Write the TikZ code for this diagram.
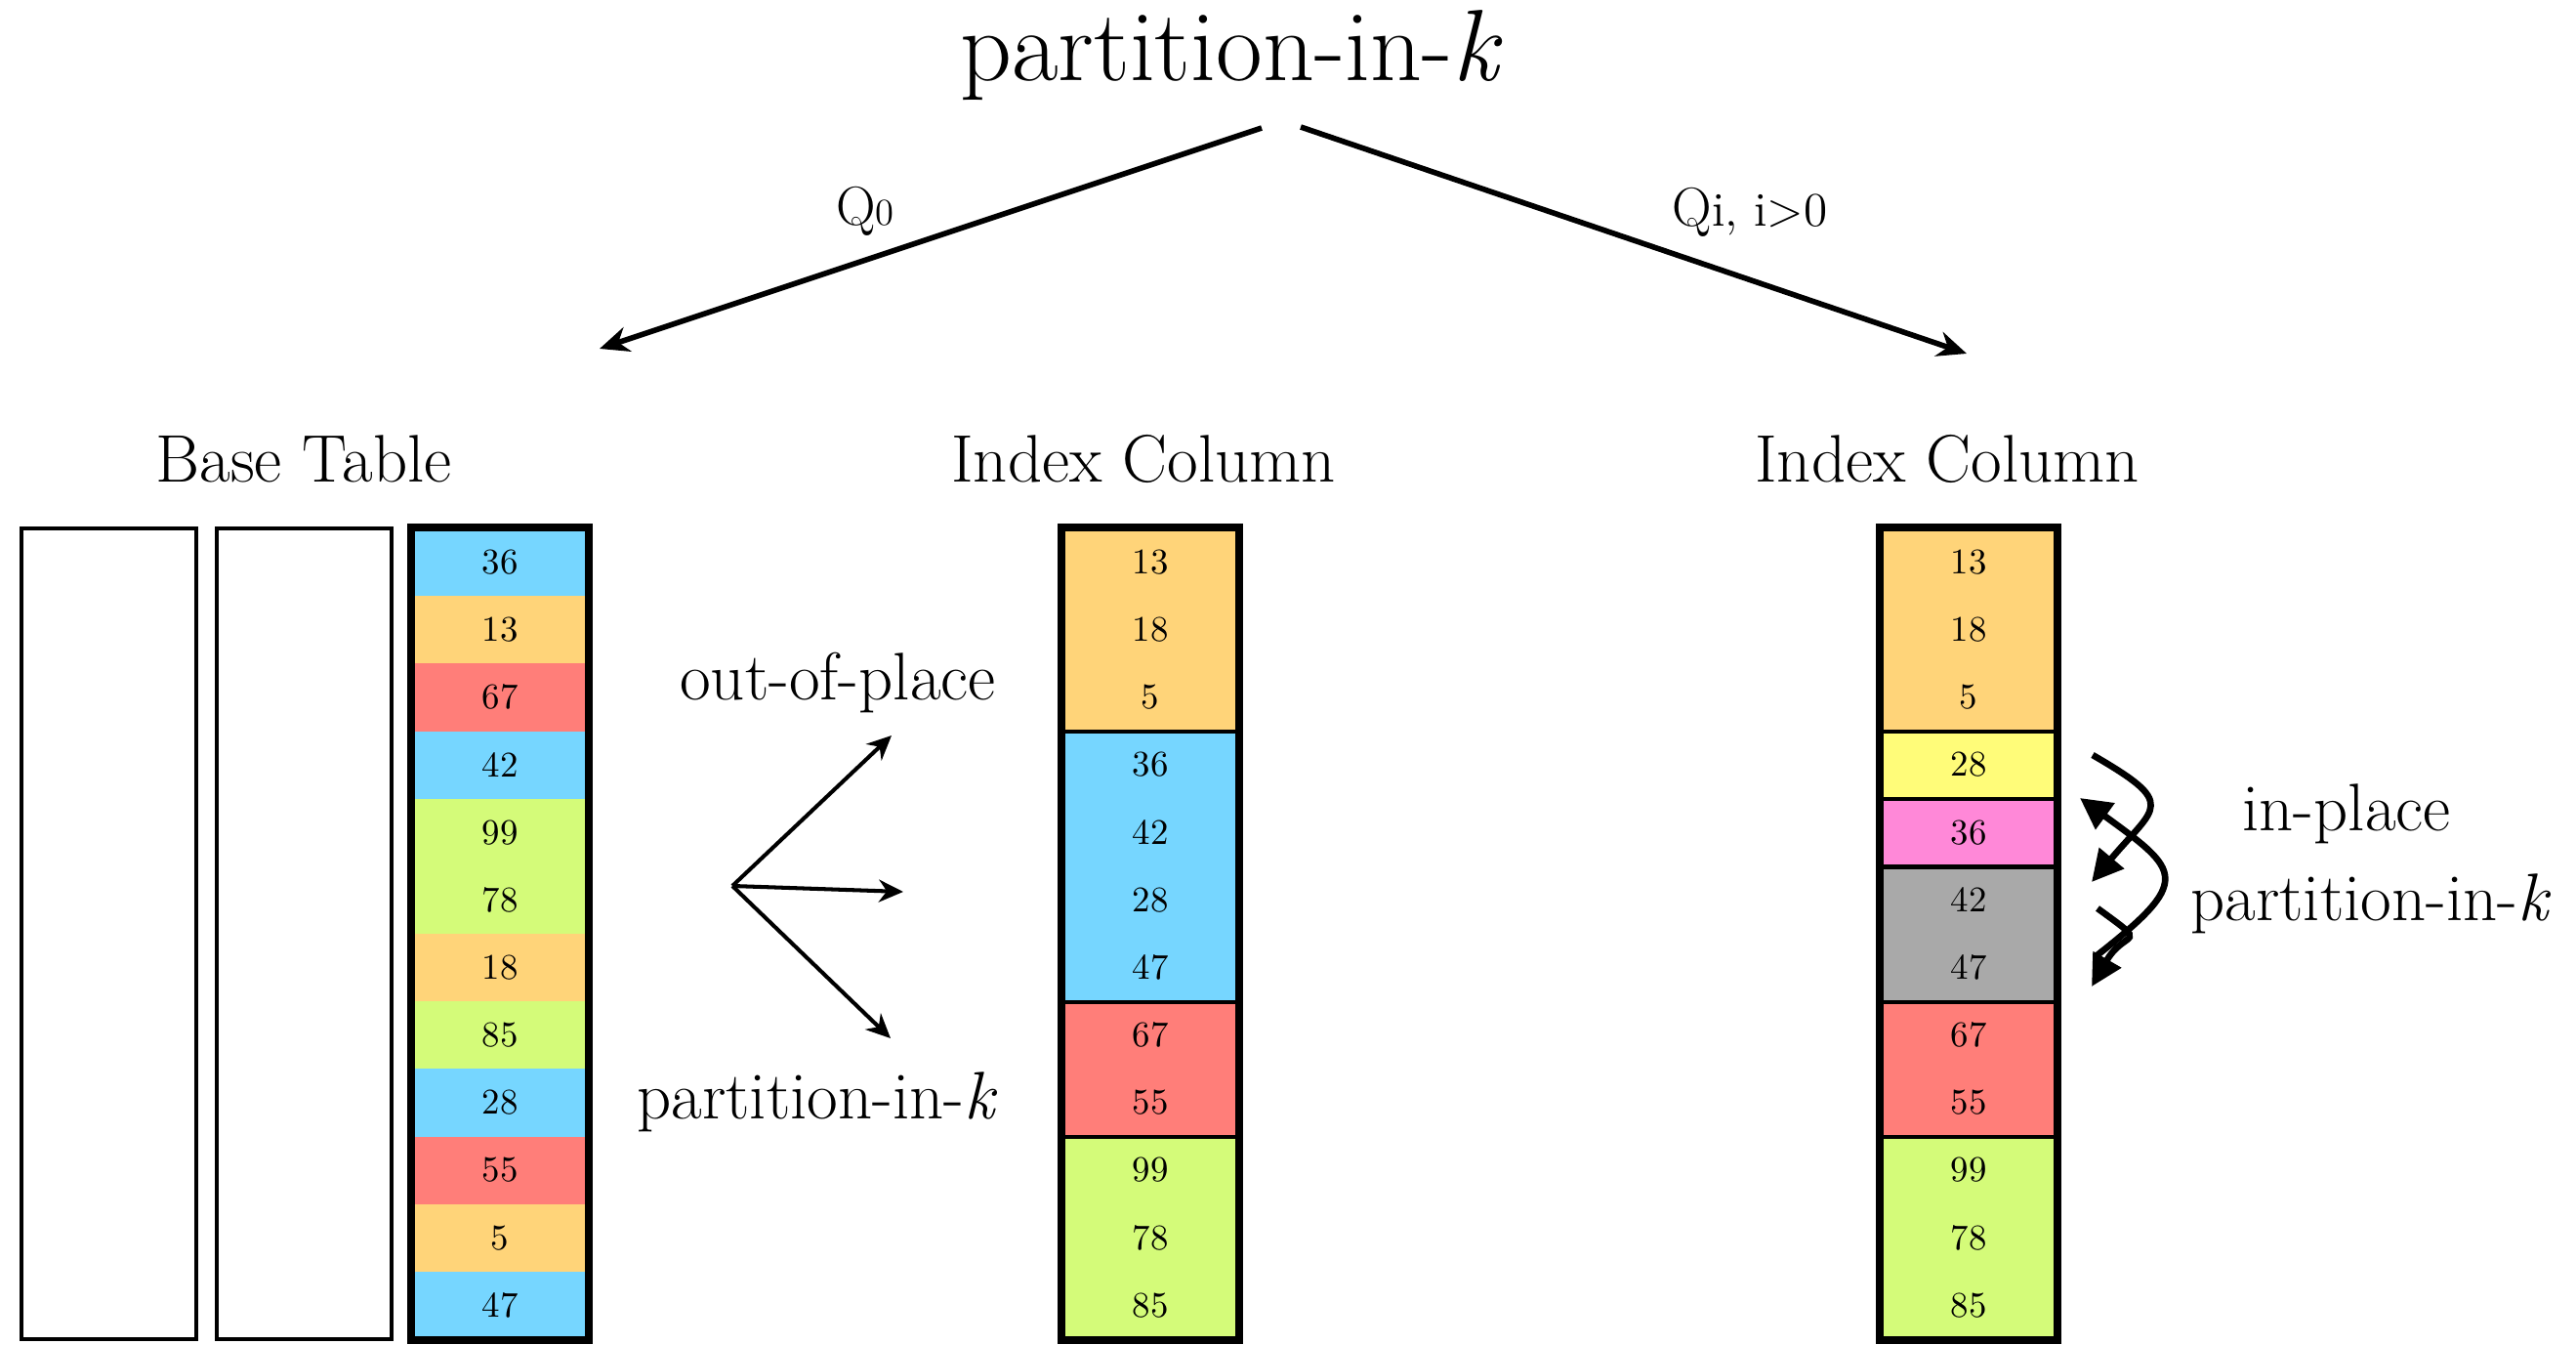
\documentclass[tikz,border=0pt]{standalone}
\usetikzlibrary{arrows.meta}
\definecolor{sky}{HTML}{76D6FF}
\definecolor{cantaloupe}{HTML}{FFD479}
\definecolor{salmon}{HTML}{FF7E79}
\definecolor{honeydew}{HTML}{D4FB79}
\definecolor{banana}{HTML}{FFFC79}
\definecolor{bubblegum}{HTML}{FF88D8}
\definecolor{aluminum}{HTML}{A9A9A9}
\newcommand{\capfont}{\fontsize{19.6}{23}\selectfont}

\begin{document}
\begin{tikzpicture}[
    cell/.style={minimum width=1.8cm, minimum height=0.6917cm, inner sep=0pt,
      font=\fontsize{10.5}{12}\selectfont},
    colborder/.style={draw=black, line width=2.2pt},
    blankcol/.style={draw=black, line width=1.2pt, minimum width=1.79cm,
      minimum height=8.3cm, inner sep=0pt},
    sepline/.style={line width=1.2pt},
    captext/.style={font=\capfont, anchor=base, inner sep=0pt},
    toparrow/.style={-{Stealth[length=0.3cm, width=0.26cm]}, line width=1.6pt},
    fanarrow/.style={-{Stealth[length=0.25cm, width=0.23cm]}, line width=1.15pt},
    swaparrow/.style={-{Triangle[length=0.32cm, width=0.32cm]}, line width=1.9pt}
  ]
  \useasboundingbox (0,0) rectangle (26.38,13.76);

  % title and the two query branches
  \node[font=\fontsize{29.5}{34}\selectfont, anchor=base, inner sep=0pt] (title)
    at (12.61,12.93) {partition-in-\textit{k}};
  \coordinate (forkl) at (12.92,12.45);
  \coordinate (forkr) at (13.32,12.46);
  \coordinate (q0end) at (6.14,10.19);
  \coordinate (qiend) at (20.14,10.14);
  \draw[toparrow] (forkl) -- (q0end);
  \draw[toparrow] (forkr) -- (qiend);
  \node[anchor=base, inner sep=0pt] (qzero) at (8.86,11.45)
    {{\fontsize{16}{19}\selectfont Q}{\fontsize{11}{13}\selectfont 0}};
  \node[anchor=base, inner sep=0pt] (qi) at (17.92,11.44)
    {{\fontsize{16}{19}\selectfont Q}{\fontsize{14}{16}\selectfont i, i>0}};

  % base table
  \node[captext] (basetitle) at (3.11,8.82) {Base Table};
  \node[blankcol] (blanka) at (1.115,4.2) {};
  \node[blankcol] (blankb) at (3.115,4.2) {};
  \foreach \val/\col [count=\i] in {36/sky, 13/cantaloupe, 67/salmon, 42/sky,
      99/honeydew, 78/honeydew, 18/cantaloupe, 85/honeydew, 28/sky, 55/salmon,
      5/cantaloupe, 47/sky}
    \node[cell, fill=\col] (base-\i) at (5.12,{8.35-0.6917*(\i-0.5)}) {\val};
  \draw[colborder] (base-1.north west) rectangle (base-12.south east);

  % out-of-place index column
  \node[captext] (idxatitle) at (11.71,8.82) {Index Column};
  \foreach \val/\col [count=\i] in {13/cantaloupe, 18/cantaloupe, 5/cantaloupe,
      36/sky, 42/sky, 28/sky, 47/sky, 67/salmon, 55/salmon, 99/honeydew,
      78/honeydew, 85/honeydew}
    \node[cell, fill=\col] (idxa-\i) at (11.78,{8.35-0.6917*(\i-0.5)}) {\val};
  \foreach \i in {3,7,9}
    \draw[sepline] (idxa-\i.south west) -- (idxa-\i.south east);
  \draw[colborder] (idxa-1.north west) rectangle (idxa-12.south east);

  % in-place index column
  \node[captext] (idxbtitle) at (19.94,8.82) {Index Column};
  \foreach \val/\col [count=\i] in {13/cantaloupe, 18/cantaloupe, 5/cantaloupe,
      28/banana, 36/bubblegum, 42/aluminum, 47/aluminum, 67/salmon, 55/salmon,
      99/honeydew, 78/honeydew, 85/honeydew}
    \node[cell, fill=\col] (idxb-\i) at (20.16,{8.35-0.6917*(\i-0.5)}) {\val};
  \foreach \i in {3,4,5,7,9}
    \draw[sepline] (idxb-\i.south west) -- (idxb-\i.south east);
  \draw[colborder] (idxb-1.north west) rectangle (idxb-12.south east);

  % fan of choices
  \coordinate (fanorigin) at (7.5,4.69);
  \coordinate (fanup) at (9.13,6.23);
  \coordinate (fanmid) at (9.25,4.63);
  \coordinate (fandown) at (9.12,3.13);
  \foreach \tip in {fanup, fanmid, fandown}
    \draw[fanarrow] (fanorigin) -- (\tip);
  \node[captext] (oop) at (8.58,6.6) {out-of-place};
  \node[captext] (pik) at (8.37,2.31) {partition-in-\textit{k}};

  % swaps
  \coordinate (swapa-s) at (21.43,6.03);
  \coordinate (swapa-e) at (21.42,4.73);
  \coordinate (swapb-s) at (21.45,3.96);
  \coordinate (swapb-e) at (21.3,5.59);
  \coordinate (swapc-s) at (21.48,4.46);
  \coordinate (swapc-e) at (21.42,3.66);
  \draw[swaparrow] (swapa-s) to[out=-30, in=50, looseness=2] (swapa-e);
  \draw[swaparrow] (swapb-s) to[out=38, in=-36, looseness=2] (swapb-e);
  \draw[swaparrow] (swapc-s) to[out=-36, in=60, looseness=2.2] (swapc-e);
  \node[captext] (inplace) at (24.03,5.26) {in-place};
  \node[captext] (inplacek) at (24.28,4.34) {partition-in-\textit{k}};
\end{tikzpicture}
\end{document}
